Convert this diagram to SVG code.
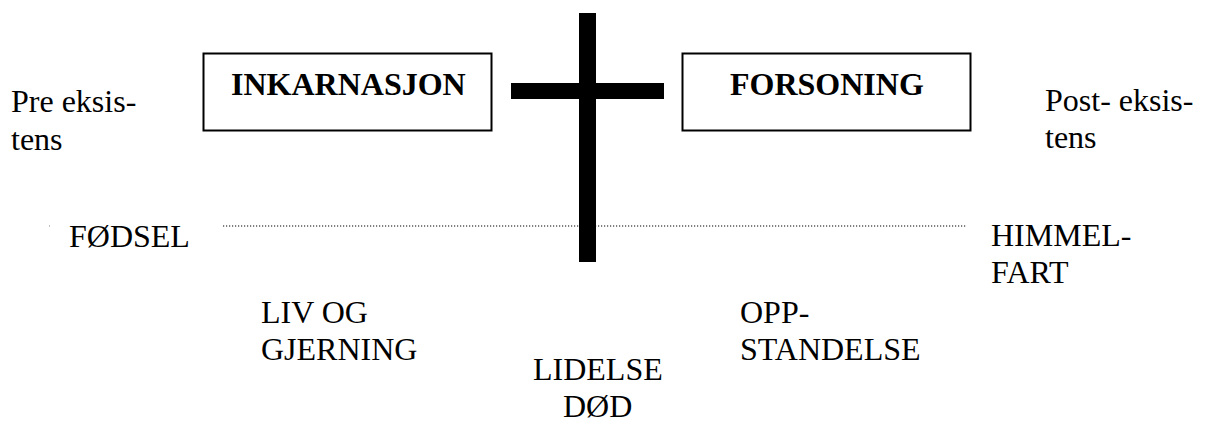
<svg xmlns="http://www.w3.org/2000/svg" width="1205" height="422" viewBox="0 0 1205 422">
<defs>
<rect id="boxshape" width="288" height="77" fill="#fff" stroke="#000" stroke-width="2"/>
</defs>
<rect width="1205" height="422" fill="#fff"/>
<g id="connectors">
<line x1="223" y1="226" x2="967" y2="226" stroke="#000" stroke-width="1.2" stroke-dasharray="1.2 1.8"/>
<rect x="49" y="225.5" width="1" height="1" fill="#888"/>
</g>
<g id="cross">
<rect x="579" y="13" width="17" height="249" fill="#000"/>
<rect x="511" y="83" width="153" height="16" fill="#000"/>
</g>
<g id="preeksistens">
<text font-family="Liberation Serif" font-size="32" x="11" y="112">Pre eksis-</text>
<text font-family="Liberation Serif" font-size="32" x="11" y="150">tens</text>
</g>
<g id="posteksistens">
<text font-family="Liberation Serif" font-size="32" x="1045" y="111">Post- eksis-</text>
<text font-family="Liberation Serif" font-size="32" x="1045" y="148">tens</text>
</g>
<g id="fodsel"><text font-family="Liberation Serif" font-size="32" x="69" y="247">FØDSEL</text></g>
<g id="himmelfart">
<text font-family="Liberation Serif" font-size="32" x="991" y="246">HIMMEL-</text>
<text font-family="Liberation Serif" font-size="32" x="991" y="283">FART</text>
</g>
<g id="liv">
<text font-family="Liberation Serif" font-size="32" x="261" y="323">LIV OG</text>
<text font-family="Liberation Serif" font-size="32" x="261" y="360">GJERNING</text>
</g>
<g id="lidelse">
<text font-family="Liberation Serif" font-size="32" x="533" y="380">LIDELSE</text>
<text font-family="Liberation Serif" font-size="32" x="563" y="417">DØD</text>
</g>
<g id="oppstandelse">
<text font-family="Liberation Serif" font-size="32" x="740" y="323">OPP-</text>
<text font-family="Liberation Serif" font-size="32" x="740" y="360">STANDELSE</text>
</g>
<g id="inkarnasjon">
<use href="#boxshape" x="203.5" y="53.5"/>
<text font-family="Liberation Serif" font-size="32" font-weight="bold" x="231" y="95">INKARNASJON</text>
</g>
<g id="forsoning">
<use href="#boxshape" x="682.5" y="53.5"/>
<text font-family="Liberation Serif" font-size="32" font-weight="bold" x="730" y="95">FORSONING</text>
</g>
</svg>
